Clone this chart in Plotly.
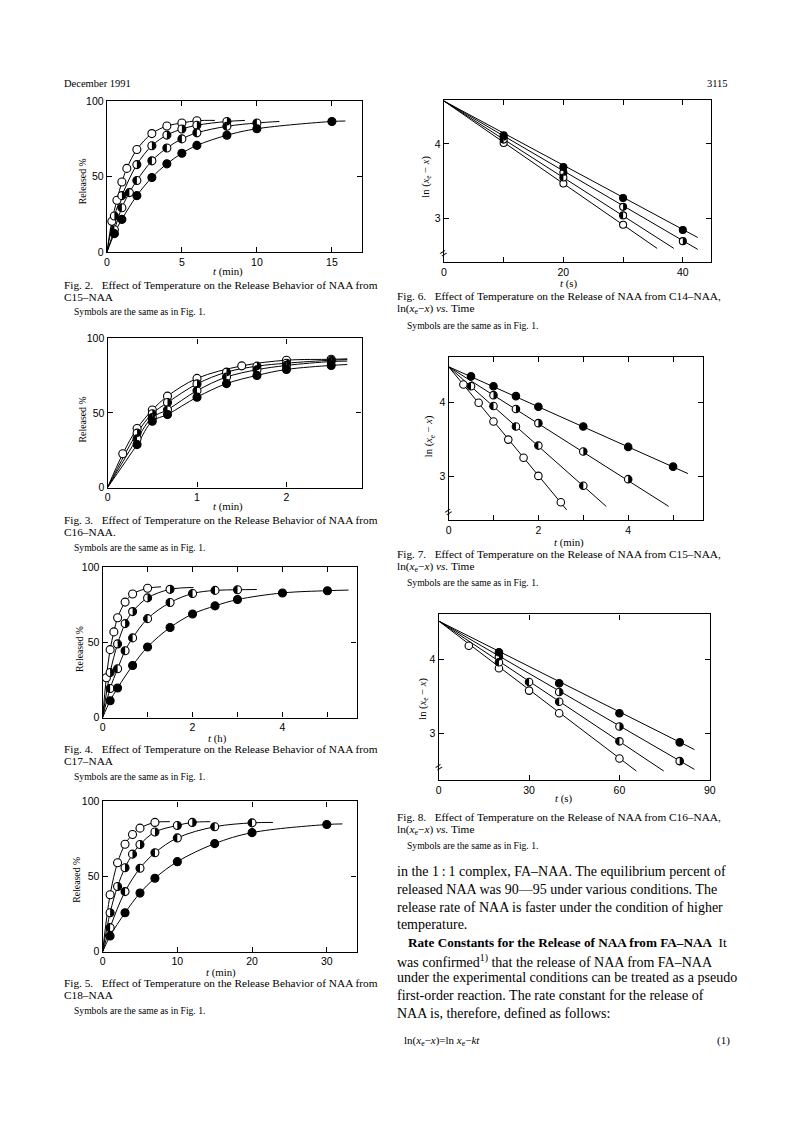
import plotly.graph_objects as go

# Page is 793x1123; the browser body keeps its default 8px margin,
# so the figure itself is 16px smaller and every position is offset by 8px.
PAGE_W, PAGE_H = 793, 1123
OFF = 8
W, H = PAGE_W - 2 * OFF, PAGE_H - 2 * OFF

# ---------------- DATA ----------------
# Fig. 2  C15-NAA, t (min), Released %
f2_A_t = [0.33, 0.67, 1, 1.33, 2, 3, 4, 5, 6]
f2_A_y = [20.5, 34.5, 46.5, 55.5, 68, 78.5, 83.5, 85.5, 87]
f2_B_t = [0.5, 1, 2, 3, 4, 5, 6, 8]
f2_B_y = [24, 37.5, 58, 70.5, 77.5, 81.5, 84, 86.5]
f2_C_t = [0.5, 1, 1.5, 2, 3, 4, 5, 6, 8, 10]
f2_C_y = [15, 29.5, 39.5, 47.5, 60.5, 69, 75, 79, 83.3, 85.5]
f2_D_t = [0.5, 1, 2, 3, 4, 5, 6, 8, 10, 15]
f2_D_y = [12.4, 21.8, 37.5, 49.5, 58.5, 65.5, 70.7, 77.4, 81.7, 86.5]
f2_tail_t = [7.2, 9.2, 11.5, 15.9]
f2_tail_y = [87.2, 87.2, 86.5, 86.8]

# Fig. 3  C16-NAA, t (min)
f3_A_t = [0.17, 0.33, 0.5, 0.67, 1, 1.5, 2, 2.5]
f3_A_y = [22.6, 39.6, 52, 61.3, 73.2, 81.6, 85.4, 86]
f3_B_t = [0.33, 0.5, 0.67, 1, 1.33, 1.67, 2, 2.5]
f3_B_y = [36.5, 49.5, 57, 69.5, 77.4, 81.4, 83.4, 85.4]
f3_C_t = [0.33, 0.5, 0.67, 1, 1.33, 1.67, 2, 2.5]
f3_C_y = [32.7, 47, 52.2, 65, 74.1, 79, 81.9, 84.5]
f3_D_t = [0.33, 0.5, 0.67, 1, 1.33, 1.67, 2, 2.5]
f3_D_y = [28.8, 44.5, 49, 60.6, 69.7, 75.2, 79.2, 81.9]
f3_tail_t = [2.68, 2.68, 2.68, 2.68]
f3_tail_y = [86.3, 85.8, 84.8, 82.5]

# Fig. 4  C17-NAA, t (h)
f4_A_t = [0.083, 0.167, 0.25, 0.333, 0.5, 0.667, 1.0]
f4_A_y = [26.5, 45.2, 57, 66.4, 76.8, 82.2, 86]
f4_B_t = [0.167, 0.333, 0.5, 0.667, 1.0, 1.5]
f4_B_y = [30, 49, 62.5, 70.5, 79.6, 85.3]
f4_C_t = [0.167, 0.333, 0.5, 0.667, 1.0, 1.5, 2.0, 2.5, 3.0]
f4_C_y = [19.3, 32.5, 44.5, 53, 65.8, 76.5, 82.5, 84.6, 85]
f4_D_t = [0.167, 0.333, 0.667, 1.0, 1.5, 2.0, 2.5, 3.0, 4.0, 5.0]
f4_D_y = [11.2, 19.7, 34.6, 47, 59.9, 68.9, 74.3, 78.5, 82.9, 84.4]
f4_tail_t = [1.3, 2.02, 3.43, 5.47]
f4_tail_y = [87, 86.5, 85.2, 84.8]

# Fig. 5  C18-NAA, t (min)
f5_A_t = [1, 2, 3, 4, 5, 7]
f5_A_y = [37.9, 59.2, 71.5, 78, 82.2, 86]
f5_B_t = [1, 2, 3, 4, 5, 7, 10, 12]
f5_B_y = [25.9, 43.4, 55.9, 64.9, 71.3, 79.6, 84, 86]
f5_C_t = [1, 3, 5, 7, 10, 15, 20]
f5_C_y = [16, 40, 55.5, 65.8, 75.7, 83.1, 85.7]
f5_D_t = [1, 3, 5, 7, 10, 15, 20, 30]
f5_D_y = [10.5, 25.9, 39, 48.9, 59.9, 71.9, 79.2, 84.6]
f5_tail_t = [9, 14.4, 22.8, 32.1]
f5_tail_y = [86.5, 86.5, 86, 85]

# Fig. 6  C14-NAA, ln(xe-x) vs t (s)
f6_A_t = [10, 20, 30]
f6_A_y = [4.013, 3.467, 2.911]
f6_B_t = [10, 20, 30, 40]
f6_B_y = [4.089, 3.613, 3.151, 2.689]
f6_C_t = [10, 20, 30]
f6_C_y = [4.058, 3.547, 3.036]
f6_D_t = [10, 20, 30, 40]
f6_D_y = [4.116, 3.689, 3.271, 2.84]
f6_line_t0 = 0
f6_line_y0 = 4.578
f6_end_t = [35.7, 42.5, 38.5, 42.5]
f6_end_y = [2.591, 2.578, 2.591, 2.738]

# Fig. 7  C15-NAA, ln(xe-x) vs t (min)
f7_A_t = [0.33, 0.67, 1, 1.33, 1.67, 2, 2.5]
f7_A_y = [4.235, 3.99, 3.739, 3.496, 3.252, 3.009, 2.655]
f7_B_t = [1, 1.5, 2, 3, 4]
f7_B_y = [4.093, 3.907, 3.717, 3.336, 2.965]
f7_C_t = [0.5, 1, 1.5, 2, 3]
f7_C_y = [4.212, 3.947, 3.673, 3.416, 2.876]
f7_D_t = [0.5, 1, 1.5, 2, 3, 4, 5]
f7_D_y = [4.345, 4.212, 4.08, 3.938, 3.673, 3.398, 3.133]
f7_line_t0 = 0
f7_line_y0 = 4.475
f7_end_t = [2.63, 4.9, 3.51, 5.33]
f7_end_y = [2.553, 2.6, 2.6, 3.04]

# Fig. 8  C16-NAA, ln(xe-x) vs t (s)
f8_A_t = [10, 20, 30, 40, 60]
f8_A_y = [4.187, 3.884, 3.582, 3.276, 2.667]
f8_B_t = [20, 40, 60, 80]
f8_B_y = [4.04, 3.564, 3.098, 2.631]
f8_C_t = [20, 30, 40, 60]
f8_C_y = [3.964, 3.698, 3.431, 2.898]
f8_D_t = [20, 40, 60, 80]
f8_D_y = [4.098, 3.68, 3.276, 2.884]
f8_line_t0 = 0
f8_line_y0 = 4.52
f8_end_t = [65.6, 84.9, 74.7, 84.9]
f8_end_y = [2.498, 2.52, 2.498, 2.787]

# ---------------- LAYOUT HELPERS ----------------
def fx(p):
    return (p - OFF) / W

def fy(p):
    return 1 - (p - OFF) / H

SERIF = "Liberation Serif, Times New Roman, serif"
SANS = "Liberation Sans, Arial, sans-serif"

fig = go.Figure()
layout = dict(width=W, height=H, autosize=False,
              margin=dict(l=0, r=0, t=0, b=0),
              paper_bgcolor="white", plot_bgcolor="white",
              showlegend=False)

panels = [
    dict(box=(105, 363, 96, 249), xr=[0, 17], yr=[0, 100],
         xtv=[0, 5, 10, 15], xminor=[],
         ytv=[0, 50, 100], ms=8),
    dict(box=(105.7, 362.7, 336, 486.7), xr=[0, 2.84], yr=[0, 100],
         xtv=[0, 1, 2], xminor=[],
         ytv=[0, 50, 100], ms=8),
    dict(box=(100.7, 357.7, 567.3, 719.3), xr=[0, 5.65], yr=[0, 100],
         xtv=[0, 2, 4], xminor=[1, 3, 5],
         ytv=[0, 50, 100], ms=8),
    dict(box=(100.7, 357.7, 804, 956), xr=[0, 34], yr=[0, 100],
         xtv=[0, 10, 20, 30], xminor=[],
         ytv=[0, 50, 100], ms=8),
    dict(box=(446, 716.7, 95, 259), xr=[0, 44.8], yr=[2.404, 4.591],
         xtv=[0, 20, 40], xminor=[10, 30],
         ytv=[3, 4], ms=7),
    dict(box=(450.7, 708.3, 355, 519.3), xr=[0, 5.67], yr=[2.42, 4.602],
         xtv=[0, 2, 4], xminor=[1, 3, 5],
         ytv=[3, 4], ms=7.5),
    dict(box=(440.7, 715, 615, 782.3), xr=[0, 90], yr=[2.378, 4.609],
         xtv=[0, 30, 60, 90], xminor=[],
         ytv=[3, 4], ms=7.5),
]

for i, p in enumerate(panels, start=1):
    l, r, t, b = p["box"]
    xa = "xaxis" if i == 1 else f"xaxis{i}"
    ya = "yaxis" if i == 1 else f"yaxis{i}"
    common = dict(showline=True, linecolor="black", linewidth=1.3, mirror="ticks",
                  ticks="inside", ticklen=5, tickwidth=1, tickcolor="black",
                  showgrid=False, zeroline=False,
                  tickfont=dict(family=SANS, size=10.5, color="black"))
    xdict = dict(domain=[fx(l), fx(r)], range=p["xr"], anchor=f"y{i}" if i > 1 else "y",
                 tickmode="array", tickvals=p["xtv"],
                 ticktext=[f"{v:g}" for v in p["xtv"]], **common)
    if p["xminor"]:
        xdict["minor"] = dict(tickmode="array", tickvals=p["xminor"], ticks="inside",
                              ticklen=5, tickwidth=1, tickcolor="black", showgrid=False)
    layout[xa] = xdict
    layout[ya] = dict(domain=[fy(b), fy(t)], range=p["yr"], anchor=f"x{i}" if i > 1 else "x",
                      tickmode="array", tickvals=p["ytv"],
                      ticktext=[f"{v:g}" for v in p["ytv"]], **common)

fig.update_layout(**layout)

def axes(i):
    return ("x", "y") if i == 1 else (f"x{i}", f"y{i}")

shapes = []
KB = 0.5523

def half_path(r, side):
    s = 1 if side == "right" else -1
    k = KB * r
    return (f"M 0,{-r} C {s*k},{-r} {s*r},{-k} {s*r},0 "
            f"C {s*r},{k} {s*k},{r} 0,{r} Z")

def add_markers(i, t, y, kind, ms):
    xa, ya = axes(i)
    fill = "black" if kind == "D" else "white"
    fig.add_trace(go.Scatter(x=t, y=y, xaxis=xa, yaxis=ya, mode="markers",
                             marker=dict(symbol="circle", size=ms, color=fill,
                                         line=dict(color="black", width=1.1)),
                             hoverinfo="skip"))
    if kind in ("B", "C"):
        side = "right" if kind == "B" else "left"
        path = half_path(ms / 2.0, side)
        for tv, yv in zip(t, y):
            shapes.append(dict(type="path", xref=xa, yref=ya,
                               xsizemode="pixel", ysizemode="pixel",
                               xanchor=tv, yanchor=yv, path=path,
                               fillcolor="black", line=dict(width=0), layer="above"))

release = [
    (1, [(f2_A_t, f2_A_y), (f2_B_t, f2_B_y), (f2_C_t, f2_C_y), (f2_D_t, f2_D_y)], f2_tail_t, f2_tail_y),
    (2, [(f3_A_t, f3_A_y), (f3_B_t, f3_B_y), (f3_C_t, f3_C_y), (f3_D_t, f3_D_y)], f3_tail_t, f3_tail_y),
    (3, [(f4_A_t, f4_A_y), (f4_B_t, f4_B_y), (f4_C_t, f4_C_y), (f4_D_t, f4_D_y)], f4_tail_t, f4_tail_y),
    (4, [(f5_A_t, f5_A_y), (f5_B_t, f5_B_y), (f5_C_t, f5_C_y), (f5_D_t, f5_D_y)], f5_tail_t, f5_tail_y),
]
kinds = ["A", "B", "C", "D"]
for i, series, tt, ty in release:
    xa, ya = axes(i)
    for k, (t, y) in enumerate(series):
        fig.add_trace(go.Scatter(x=[0] + t + [tt[k]], y=[0] + y + [ty[k]], xaxis=xa, yaxis=ya,
                                 mode="lines", line=dict(color="black", width=1, shape="spline", smoothing=1.0),
                                 hoverinfo="skip"))
    for k, (t, y) in enumerate(series):
        add_markers(i, t, y, kinds[k], panels[i - 1]["ms"])

lnplots = [
    (5, [(f6_A_t, f6_A_y), (f6_B_t, f6_B_y), (f6_C_t, f6_C_y), (f6_D_t, f6_D_y)], f6_line_t0, f6_line_y0, f6_end_t, f6_end_y),
    (6, [(f7_A_t, f7_A_y), (f7_B_t, f7_B_y), (f7_C_t, f7_C_y), (f7_D_t, f7_D_y)], f7_line_t0, f7_line_y0, f7_end_t, f7_end_y),
    (7, [(f8_A_t, f8_A_y), (f8_B_t, f8_B_y), (f8_C_t, f8_C_y), (f8_D_t, f8_D_y)], f8_line_t0, f8_line_y0, f8_end_t, f8_end_y),
]
for i, series, t0, y0, et, ey in lnplots:
    xa, ya = axes(i)
    for k in range(4):
        fig.add_trace(go.Scatter(x=[t0, et[k]], y=[y0, ey[k]], xaxis=xa, yaxis=ya,
                                 mode="lines", line=dict(color="black", width=1), hoverinfo="skip"))
    for k, (t, y) in enumerate(series):
        add_markers(i, t, y, kinds[k], panels[i - 1]["ms"])

# ---------------- TEXT ----------------
ann = []

def txt(x, y, s, size=11, family=SERIF, xanchor="left", angle=0, yanchor="middle"):
    ann.append(dict(x=fx(x), y=fy(y), xref="paper", yref="paper", text=s, showarrow=False,
                    xanchor=xanchor, yanchor=yanchor, textangle=angle,
                    font=dict(family=family, size=size, color="black")))

NB = "\u00a0"
txt(60, 78, "December 1991", size=10.5)
txt(735, 78, "3115", size=10.5, xanchor="right")

REL = "Released %"
LNT = "ln (<i>x</i><sub>e</sub> \u2212 <i>x</i>)"
txt(80, 177, REL, size=9.8, xanchor="center", angle=-90)
txt(80.7, 418, REL, size=9.8, xanchor="center", angle=-90)
txt(76.7, 650, REL, size=9.8, xanchor="center", angle=-90)
txt(74, 883, REL, size=9.8, xanchor="center", angle=-90)
txt(428.3, 172, LNT, size=10.5, xanchor="center", angle=-90)
txt(431.7, 435, LNT, size=10.5, xanchor="center", angle=-90)
txt(425, 700, LNT, size=10.5, xanchor="center", angle=-90)

XT = 10.8
txt(228, 268.5, "<i>t</i>" + NB + "(min)", size=XT, xanchor="center")
txt(228, 506, "<i>t</i>" + NB + "(min)", size=XT, xanchor="center")
txt(217, 740, "<i>t</i>" + NB + "(h)", size=XT, xanchor="center")
txt(220, 977, "<i>t</i>" + NB + "(min)", size=XT, xanchor="center")
txt(572, 280.5, "<i>t</i>" + NB + "(s)", size=XT, xanchor="center")
txt(573, 542, "<i>t</i>" + NB + "(min)", size=XT, xanchor="center")
txt(567, 801, "<i>t</i>" + NB + "(s)", size=XT, xanchor="center")

for bx, by in [(446, 250), (450.7, 511.7), (441, 769)]:
    txt(bx, by, "=", size=12, family=SANS, xanchor="center", angle=-35)

CAP = 11.3
SYMS = 9.6
SYM = "Symbols are the same as in Fig. 1."
txt(60, 282, "Fig. 2." + NB * 3 + "Effect of Temperature on the Release Behavior of NAA from", size=CAP)
txt(60, 294, "C15\u2013NAA", size=CAP)
txt(70, 309, SYM, size=SYMS)
txt(60, 519.5, "Fig. 3." + NB * 3 + "Effect of Temperature on the Release Behavior of NAA from", size=CAP)
txt(60, 531.5, "C16\u2013NAA.", size=CAP)
txt(70, 547, SYM, size=SYMS)
txt(60, 751.5, "Fig. 4." + NB * 3 + "Effect of Temperature on the Release Behavior of NAA from", size=CAP)
txt(60, 763.5, "C17\u2013NAA", size=CAP)
txt(70, 778.5, SYM, size=SYMS)
txt(60, 988, "Fig. 5." + NB * 3 + "Effect of Temperature on the Release Behavior of NAA from", size=CAP)
txt(60, 1000, "C18\u2013NAA", size=CAP)
txt(70, 1015.5, SYM, size=SYMS)

LNVS = "ln(<i>x</i><sub>e</sub>\u2212<i>x</i>) <i>vs.</i> Time"
txt(397, 293.5, "Fig. 6." + NB * 3 + "Effect of Temperature on the Release of NAA from C14\u2013NAA,", size=CAP)
txt(397, 306.5, LNVS, size=CAP)
txt(407, 323, SYM, size=SYMS)
txt(397, 554, "Fig. 7." + NB * 3 + "Effect of Temperature on the Release of NAA from C15\u2013NAA,", size=CAP)
txt(397, 567, LNVS, size=CAP)
txt(407, 583, SYM, size=SYMS)
txt(397, 820, "Fig. 8." + NB * 3 + "Effect of Temperature on the Release of NAA from C16\u2013NAA,", size=CAP)
txt(397, 833, LNVS, size=CAP)
txt(407, 849, SYM, size=SYMS)

BODY = 14
body_lines = [
    (397, 875, "in the 1\u2009:\u20091 complex, FA\u2013NAA. The equilibrium percent of", BODY),
    (397, 893, "released NAA was 90\u201495 under various conditions. The", BODY),
    (397, 911, "release rate of NAA is faster under the condition of higher", BODY),
    (397, 928, "temperature.", BODY),
    (408, 947, "<b>Rate Constants for the Release of NAA from FA\u2013NAA</b>" + NB * 2 + "It", 13.2),
    (397, 965, "was confirmed<sup>1)</sup> that the release of NAA from FA\u2013NAA", BODY),
    (397, 982, "under the experimental conditions can be treated as a pseudo", BODY),
    (397, 1000, "first-order reaction. The rate constant for the release of", BODY),
    (397, 1018, "NAA is, therefore, defined as follows:", BODY),
]
for x, y, s, sz in body_lines:
    txt(x, y, s, size=sz)

txt(404, 1046, "ln(<i>x</i><sub>e</sub>\u2212<i>x</i>)=ln" + NB + "<i>x</i><sub>e</sub>\u2212<i>kt</i>", size=11)
txt(737, 1046, "(1)", size=11, xanchor="right")

fig.update_layout(annotations=ann, shapes=shapes)
fig.write_html("out.html", config={"displayModeBar": False})
